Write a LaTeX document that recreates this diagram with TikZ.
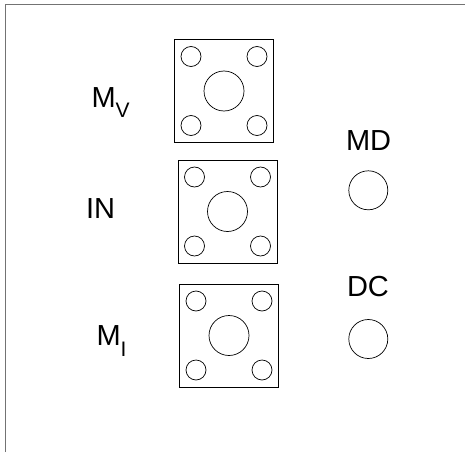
\documentclass[tikz,border=0pt]{standalone}
\usepackage{fontspec}
\setmainfont{Liberation Sans}
\tikzset{
  plate/.style={draw=black,line width=0.85pt,fill=white},
  hole/.style={draw=black,line width=0.7pt,fill=none},
  framegray/.style={draw=black!55,line width=1.2pt},
  lab/.style={inner sep=0pt,outer sep=0pt,anchor=base west,font=\fontsize{29}{29}\selectfont}
}
\newcommand{\connector}[2]{%
  \begin{scope}[shift={(#1,#2)}]
    \draw[plate] (0,0) rectangle (99,103);
    \draw[hole] (49.5,51.5) circle (20);
    \foreach \hx/\hy in {16.5/17,82.5/17,16.5/86,82.5/86}
      \draw[hole] (\hx,\hy) circle (10);
  \end{scope}}
\begin{document}
\begin{tikzpicture}[x=1pt,y=-1pt]
\useasboundingbox (0,0) rectangle (465,452);
\fill[white] (0,0) rectangle (465,452);
\draw[framegray] (5.5,452) -- (5.5,4.5) -- (465,4.5);
\connector{174.5}{39.5}
\connector{178}{160}
\connector{179.5}{284}
\draw[hole] (368.3,190.3) circle (19.5);
\draw[hole] (368.3,339) circle (19.5);
\node[lab] (mv) at (91.5,107) {M\raisebox{-10pt}{\fontsize{21}{21}\selectfont V}};
\node[lab] (in) at (86,218) {IN};
\node[lab] (mi) at (96.5,345) {M\raisebox{-11pt}{\fontsize{21}{21}\selectfont I}};
\node[lab] (md) at (346,150) {MD};
\node[lab] (dc) at (347,296.5) {DC};
\end{tikzpicture}
\end{document}
